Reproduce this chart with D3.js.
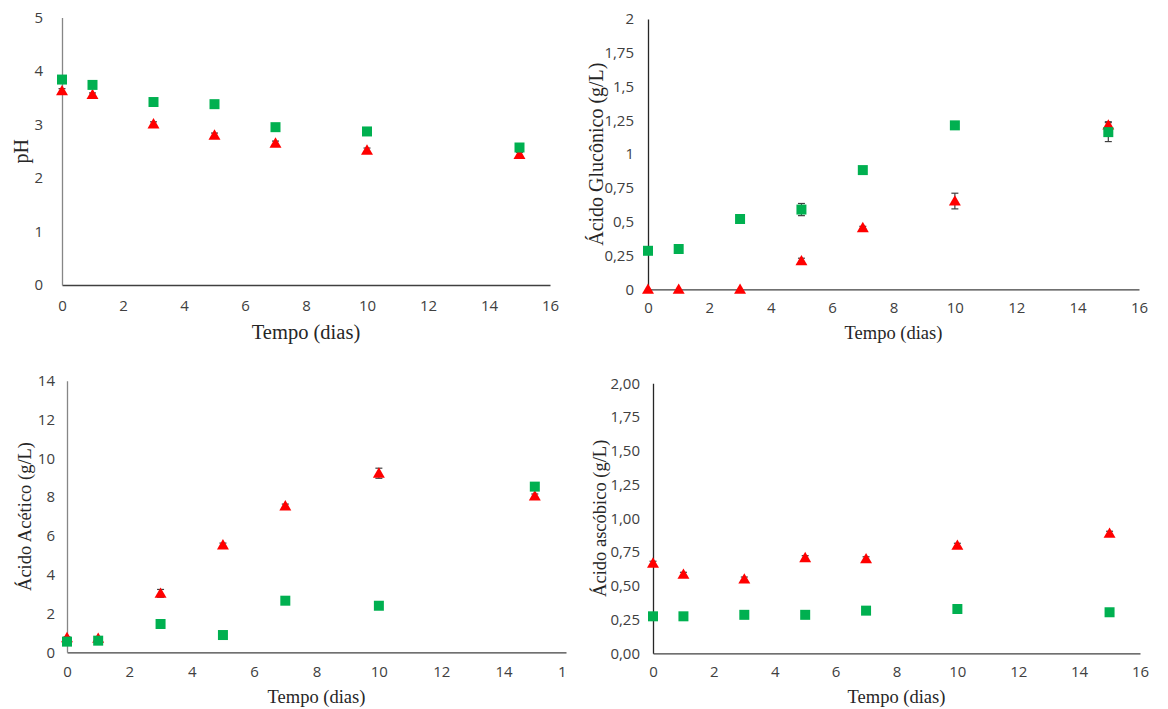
<!DOCTYPE html>
<html lang="pt">
<head>
<meta charset="UTF-8">
<title>Fermentação</title>
<script src="https://d3js.org/d3.v7.min.js"></script>
<style>
  body { margin: 0; background: #fff; }
  svg text { fill: #404040; }
  .tick text { font-family: "Open Sans", sans-serif; font-size: 15px; }
  .title { font-family: "Liberation Serif", "Times New Roman", serif; fill: #262626; }
</style>
</head>
<body>
<script>
// dias de fermentação
var dias = [0, 1, 3, 5, 7, 10, 15];
var xTicks = [0, 2, 4, 6, 8, 10, 12, 14, 16];

// pH
var phVerde = [3.84, 3.74, 3.42, 3.38, 2.95, 2.87, 2.57];
var phVerdeErr = [0.02, 0.02, 0.02, 0.02, 0.02, 0.02, 0.02];
var phVermelho = [3.63, 3.56, 3.01, 2.80, 2.65, 2.52, 2.44];
var phVermelhoErr = [0.04, 0.03, 0.04, 0.04, 0.04, 0.04, 0.04];
var phTicks = [0, 1, 2, 3, 4, 5];

// ácido glucônico (g/L)
var glucVerde = [0.285, 0.298, 0.52, 0.59, 0.882, 1.213, 1.163];
var glucVerdeErr = [0.01, 0.01, 0.01, 0.045, 0.01, 0.01, 0.07];
var glucVermelho = [0, 0, 0, 0.21, 0.456, 0.653, 1.215];
var glucVermelhoErr = [0, 0, 0, 0.02, 0.01, 0.058, 0.025];
var glucTicks = [0, 0.25, 0.5, 0.75, 1, 1.25, 1.5, 1.75, 2];

// ácido acético (g/L)
var acetVerde = [0.55, 0.6, 1.46, 0.89, 2.66, 2.40, 8.54];
var acetVerdeErr = [0.05, 0.05, 0.05, 0.05, 0.05, 0.05, 0.05];
var acetVermelho = [0.75, 0.72, 3.04, 5.53, 7.54, 9.23, 8.06];
var acetVermelhoErr = [0.05, 0.05, 0.2, 0.1, 0.1, 0.26, 0.1];
var acetTicks = [0, 2, 4, 6, 8, 10, 12, 14];

// ácido ascórbico (g/L)
var ascVerde = [0.274, 0.274, 0.285, 0.285, 0.316, 0.328, 0.304];
var ascVerdeErr = [0.01, 0.01, 0.01, 0.01, 0.01, 0.01, 0.01];
var ascVermelho = [0.667, 0.585, 0.55, 0.708, 0.70, 0.80, 0.889];
var ascVermelhoErr = [0.015, 0.015, 0.015, 0.015, 0.015, 0.015, 0.015];
var ascTicks = [0, 0.25, 0.5, 0.75, 1, 1.25, 1.5, 1.75, 2];

function br(f) { return function(v) { return f(v).replace(".", ","); }; }

var paineis = [
  { x0: 62, x1: 550, yTop: 17.5, yBot: 285, yMax: 5, ticks: phTicks, fmt: br(d3.format("")),
    yLabel: "pH", yLabelX: 21, yLabelSize: 20, xLabelY: 339, xLabelSize: 20.5, tickRight: 43, xTickY: 306,
    verde: phVerde, verdeErr: phVerdeErr, verm: phVermelho, vermErr: phVermelhoErr, yAxisColor: "#868686", clip: null },
  { x0: 648, x1: 1139, yTop: 19, yBot: 289.3, yMax: 2, ticks: glucTicks, fmt: br(d3.format("")),
    yLabel: "Ácido Glucônico (g/L)", yLabelX: 596, yLabelSize: 20, xLabelY: 339, xLabelSize: 18.5, tickRight: 634, xTickY: 308,
    verde: glucVerde, verdeErr: glucVerdeErr, verm: glucVermelho, vermErr: glucVermelhoErr, yAxisColor: "#262626", clip: null },
  { x0: 67, x1: 566, yTop: 380.7, yBot: 652.3, yMax: 14, ticks: acetTicks, fmt: br(d3.format("")),
    yLabel: "Ácido Acético (g/L)", yLabelX: 25, yLabelSize: 18.5, xLabelY: 703, xLabelSize: 18.5, tickRight: 55, xTickY: 672,
    verde: acetVerde, verdeErr: acetVerdeErr, verm: acetVermelho, vermErr: acetVermelhoErr, yAxisColor: "#868686", clip: 567 },
  { x0: 653, x1: 1140, yTop: 383.3, yBot: 653.3, yMax: 2, ticks: ascTicks, fmt: br(d3.format(".2f")),
    yLabel: "Ácido ascóbico (g/L)", yLabelX: 600, yLabelSize: 18.5, xLabelY: 703, xLabelSize: 18.5, tickRight: 640, xTickY: 672,
    verde: ascVerde, verdeErr: ascVerdeErr, verm: ascVermelho, vermErr: ascVermelhoErr, yAxisColor: "#262626", clip: null }
];

var svg = d3.select("body").append("svg")
    .attr("width", 1168)
    .attr("height", 709);

var defs = svg.append("defs");

paineis.forEach(function(p, i) {
  var g = svg.append("g");
  if (p.clip) {
    defs.append("clipPath").attr("id", "clip" + i)
      .append("rect").attr("x", 0).attr("y", 340).attr("width", p.clip).attr("height", 369);
    g.attr("clip-path", "url(#clip" + i + ")");
  }

  var x = d3.scaleLinear().domain([0, 16]).range([p.x0, p.x1]);
  var y = d3.scaleLinear().domain([0, p.yMax]).range([p.yBot, p.yTop]);

  // eixo x
  var ax = g.append("g")
      .attr("transform", "translate(0," + p.yBot + ")")
      .call(d3.axisBottom(x).tickValues(xTicks).tickSize(0));
  ax.select(".domain").attr("stroke", "#404040").attr("stroke-width", 1.3);
  ax.selectAll(".tick text").attr("dy", "0.35em").attr("y", p.xTickY - p.yBot);

  // eixo y
  var ay = g.append("g")
      .attr("transform", "translate(" + p.x0 + ",0)")
      .call(d3.axisLeft(y).tickValues(p.ticks).tickFormat(p.fmt).tickSize(0));
  ay.select(".domain").attr("stroke", p.yAxisColor).attr("stroke-width", 1.3);
  ay.selectAll(".tick text").attr("x", p.tickRight - p.x0);

  // títulos
  g.append("text").attr("class", "title")
      .attr("x", (p.x0 + p.x1) / 2).attr("y", p.xLabelY)
      .attr("text-anchor", "middle")
      .style("font-size", p.xLabelSize + "px")
      .text("Tempo (dias)");

  var yMid = (p.yTop + p.yBot) / 2;
  g.append("text").attr("class", "title")
      .attr("transform", "translate(" + p.yLabelX + "," + yMid + ") rotate(-90)")
      .attr("text-anchor", "middle")
      .attr("dy", "0.35em")
      .style("font-size", p.yLabelSize + "px")
      .text(p.yLabel);

  var series = [
    { vals: p.verm, err: p.vermErr, cor: "#ff0000", sym: d3.symbolTriangle, size: 62 },
    { vals: p.verde, err: p.verdeErr, cor: "#00b050", sym: d3.symbolSquare, size: 100 }
  ];

  // barras de erro
  series.forEach(function(s) {
    var pts = dias.map(function(d, k) { return { x: d, y: s.vals[k], e: s.err[k] }; });
    var eb = g.append("g").attr("stroke", "#404040").attr("stroke-width", 1.2);
    pts.forEach(function(d) {
      if (!d.e) return;
      var cx = x(d.x), ya = y(d.y + d.e), yb = y(d.y - d.e);
      eb.append("line").attr("x1", cx).attr("x2", cx).attr("y1", ya).attr("y2", yb);
      eb.append("line").attr("x1", cx - 3.5).attr("x2", cx + 3.5).attr("y1", ya).attr("y2", ya);
      eb.append("line").attr("x1", cx - 3.5).attr("x2", cx + 3.5).attr("y1", yb).attr("y2", yb);
    });
  });

  // marcadores
  series.forEach(function(s) {
    var pts = dias.map(function(d, k) { return { x: d, y: s.vals[k] }; });
    g.append("g").selectAll("path")
      .data(pts)
      .enter()
        .append("path")
          .attr("d", d3.symbol().type(s.sym).size(s.size))
          .attr("transform", function(d) {
            var dy = s.sym === d3.symbolTriangle ? 1 : 0;
            return "translate(" + x(d.x) + "," + (y(d.y) + dy) + ")";
          })
          .attr("fill", s.cor);
  });
});
</script>
</body>
</html>
